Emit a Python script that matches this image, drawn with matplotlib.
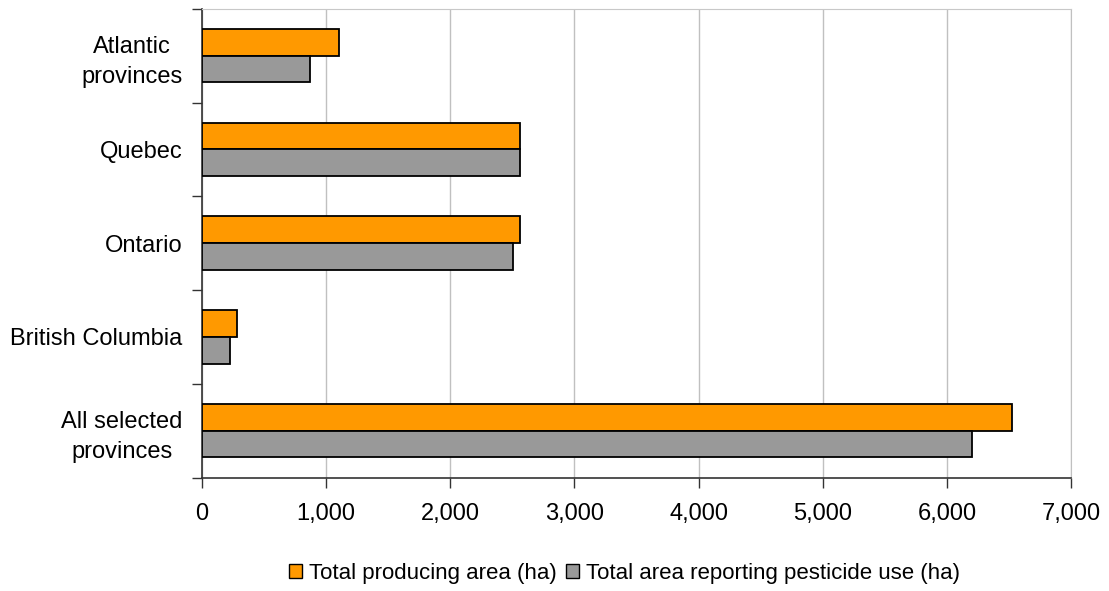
import matplotlib.pyplot as plt
from matplotlib.patches import Patch
from matplotlib.ticker import FuncFormatter
import numpy as np

plt.rcParams['font.family'] = ['Liberation Sans', 'DejaVu Sans']

regions = ['Atlantic\nprovinces', 'Quebec', 'Ontario', 'British Columbia', 'All selected\nprovinces']
producing_area = [1107, 2561, 2561, 287, 6519]
pesticide_area = [871, 2561, 2502, 230, 6197]
series_names = ['Total producing area (ha)', 'Total area reporting pesticide use (ha)']

orange = '#FF9900'
grey = '#999999'
bar_h = 0.285

fig = plt.figure(figsize=(11.09, 5.91), dpi=100)
ax = fig.add_axes([0.182, 0.192, 0.784, 0.793])

y = np.arange(len(regions))
ax.barh(y - bar_h / 2, producing_area, height=bar_h, color=orange,
        edgecolor='black', linewidth=1.3, zorder=3)
ax.barh(y + bar_h / 2, pesticide_area, height=bar_h, color=grey,
        edgecolor='black', linewidth=1.3, zorder=3)

ax.set_xlim(0, 7000)
ax.set_ylim(len(regions) - 0.5, -0.5)
ax.set_xticks(np.arange(0, 7001, 1000))
ax.xaxis.set_major_formatter(FuncFormatter(lambda v, p: f'{int(v):,}'))
ax.grid(axis='x', color='#C0C0C0', linewidth=1, zorder=0)

# category labels sit between the boundary tick marks
ax.set_yticks(y)
ax.set_yticklabels(regions, multialignment='center', linespacing=1.45)
ax.set_yticks(np.arange(len(regions) + 1) - 0.5, minor=True)
ax.tick_params(axis='y', which='major', length=0, pad=14)
ax.tick_params(axis='y', which='minor', length=7, width=1, color='#333333', direction='out')
ax.tick_params(axis='x', length=7, width=1, color='#333333', pad=11)
ax.tick_params(labelsize=17, labelcolor='black')

for side in ['left', 'bottom']:
    ax.spines[side].set_color('#333333')
    ax.spines[side].set_linewidth(1.2)
ax.spines['top'].set_color('#C8C8C8')
ax.spines['right'].set_color('#C0C0C0')

handles = [Patch(facecolor=orange, edgecolor='black', linewidth=1),
           Patch(facecolor=grey, edgecolor='black', linewidth=1)]
fig.legend(handles, series_names, loc='center', bbox_to_anchor=(0.563, 0.03),
           ncol=2, frameon=False, fontsize=16, handlelength=0.6, handleheight=0.6,
           handletextpad=0.3, columnspacing=0.4)

fig.savefig('out.png', dpi=100)
